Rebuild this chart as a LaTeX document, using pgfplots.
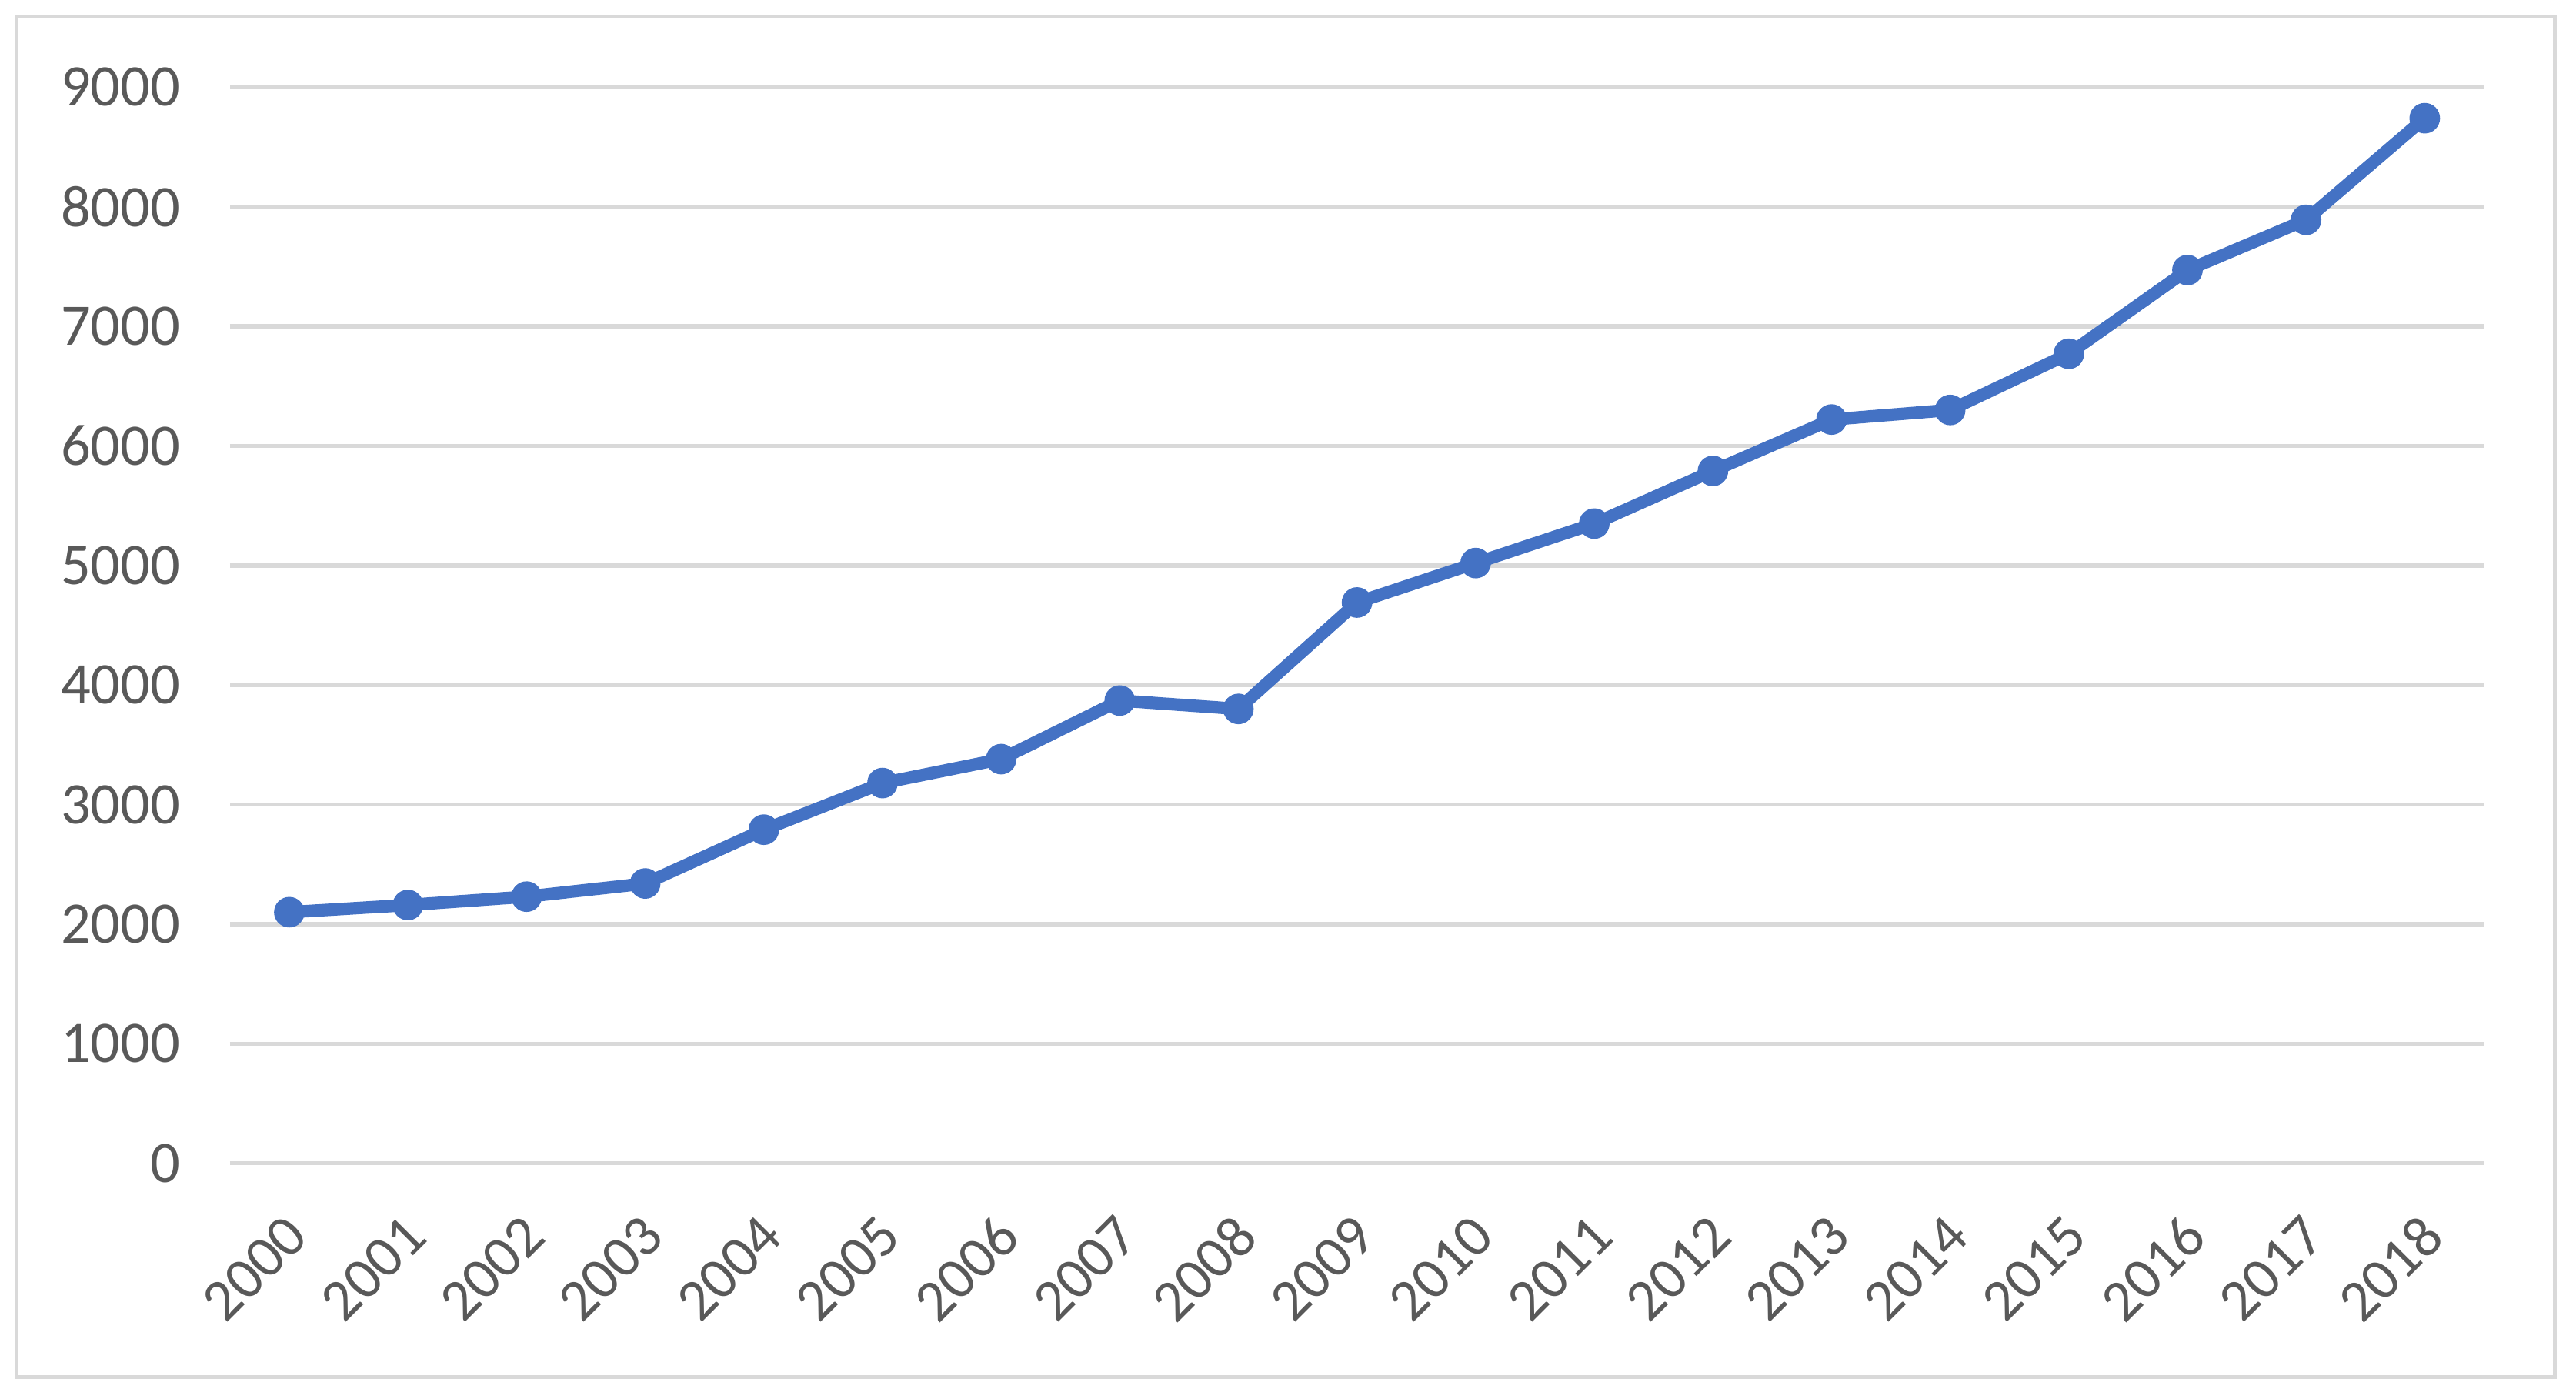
\documentclass[border=0pt]{standalone}
\usepackage{pgfplots}
\pgfplotsset{compat=1.18}
\usepackage{fontspec}
\setmainfont{Carlito}
\definecolor{linecol}{HTML}{4472C4}
\definecolor{gridcol}{HTML}{D9D9D9}
\definecolor{textcol}{HTML}{595959}
\begin{document}
\begin{tikzpicture}
\path[use as bounding box] (-1.4286,-1.4592) rectangle (14.5714,7.2245);
\draw[gridcol, line width=0.7pt] (-1.3265,-1.3265) rectangle (14.4388,7.1224);
\begin{axis}[
  scale only axis,
  width=14.0cm, height=6.6837cm,
  xmin=-0.5, xmax=18.5,
  ymin=0, ymax=9000,
  xtick={0,...,18},
  xticklabels={2000,2001,2002,2003,2004,2005,2006,2007,2008,2009,2010,2011,2012,2013,2014,2015,2016,2017,2018},
  ytick={0,1000,...,9000},
  /pgf/number format/assume math mode=true,
  yticklabel={\pgfmathprintnumber[fixed,1000 sep={}]{\tick}},
  scaled y ticks=false,
  axis line style={draw=none},
  major tick length=0pt,
  ymajorgrids,
  grid style={gridcol, line width=0.75pt},
  tick label style={font=\fontsize{10.4}{12}\selectfont, text=textcol},
  yticklabel style={anchor=east, inner sep=0pt, xshift=-8.6pt},
  xticklabel style={inner sep=0pt, xshift=1.5pt, yshift=-11pt, rotate=45, anchor=east},
  clip=false,
]
\addplot[color=linecol, line width=2.2pt, mark=*, mark size=2.3pt, mark options={line width=0.8pt, fill=linecol}]
coordinates {
(0,2100) (1,2160) (2,2230) (3,2340) (4,2790) (5,3180) (6,3380) (7,3870) (8,3800)
(9,4690) (10,5020) (11,5350) (12,5790) (13,6220) (14,6300) (15,6770) (16,7470)
(17,7890) (18,8740)
};
\end{axis}
\end{tikzpicture}
\end{document}
